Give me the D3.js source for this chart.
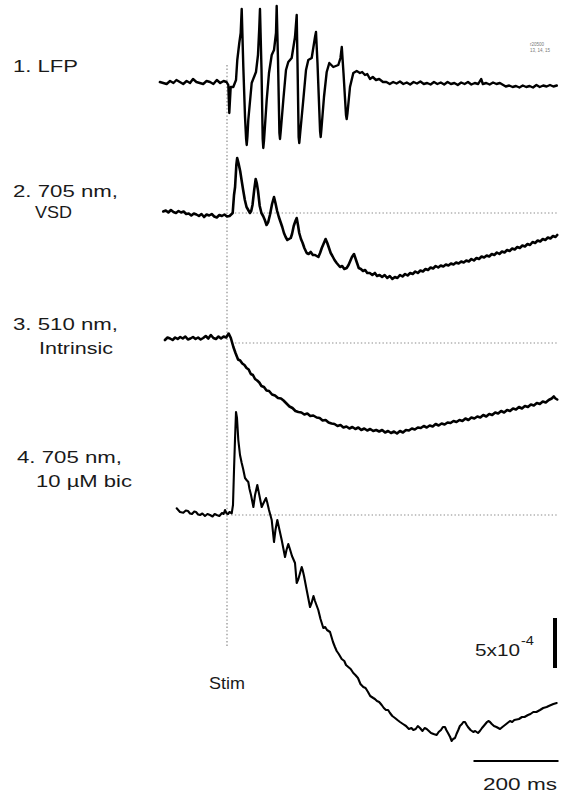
<!DOCTYPE html>
<html>
<head>
<meta charset="utf-8">
<script src="https://cdn.jsdelivr.net/npm/d3@7"></script>
<style>
  html, body { margin: 0; padding: 0; background: #fff; }
  svg { display: block; }
  text { font-family: "Liberation Sans", Arial, sans-serif; fill: #1a1a1a; }
</style>
</head>
<body>
<svg id="chart" width="561" height="796"></svg>
<script>
// ---------------- DATA ----------------
// time in ms relative to stimulus; optical values in units of 1e-4 (dF/F); LFP in arbitrary units
const traceLabels = [
  ["1. LFP"],
  ["2. 705 nm,", "VSD"],
  ["3. 510 nm,", "Intrinsic"],
  ["4. 705 nm,", "10 \u00B5M bic"]
];
const stimLabel = "Stim";
const timeBarLabel = "200 ms";
const timeBarMs = 200;
const ampBarValue = 5; // x 1e-4
const ampBarLabel = ["5x10", "-4"];
const fileNote = ["r20500", "13, 14, 15"];

const lfp = [
  [-158,0.1],[-150,0.0],[-142,-0.1],[-134,0.2],[-126,0.0],[-119,0.3],[-111,0.1],[-103,-0.1],[-95,0.2],[-87,0.0],
  [-80,0.4],[-72,0.1],[-64,0.0],[-56,-0.1],[-48,0.2],[-40,0.1],[-32,-0.1],[-24,0.3],[-16,0.0],[-8,0.2],[-1,0.1],
  [3.1,-0.2],[5.4,-3.0],[8.7,-0.4],[14.8,-0.4],[21.2,0.3],[24.2,2.3],[28.9,4.0],[32.2,5.0],[34.6,7.4],
  [38.4,1.6],[42.4,-3.4],[45,-5.6],[46.4,-6.2],[48,-5.4],[50.1,-3.7],[58.1,0.0],[68.2,1.1],[72.9,2.8],[76.0,5.6],[77.6,7.4],
  [81.2,1.3],[84,-5.6],[85.4,-6.5],[87,-5.8],[93.4,-1.7],[98.8,1.0],[105.2,2.8],[110.6,3.3],[115.3,5.0],[116.9,7.7],
  [120,2.3],[123.3,-5.0],[124.7,-5.6],[126.5,-4.8],[132.5,-1.7],[138.8,1.3],[144.2,2.1],[152.2,2.5],[160,4.6],[164,6.8],
  [165.9,2.0],[168.6,-5.4],[170.1,-6.0],[171.8,-5.2],[179.5,-1.7],[185.9,1.3],[191.3,2.3],[199.3,2.5],[207.1,4.6],[209.4,5.1],
  [212.9,2.0],[219,-4.8],[220.5,-5.4],[222.2,-4.6],[228.2,-1.4],[234.6,1.1],[240.7,2.0],[250.1,1.6],[261.9,1.8],[267,2.5],[270.1,3.6],
  [274.1,1.0],[280,-3.2],[281.6,-3.6],[283.5,-3.0],[289.4,-0.4],[297.2,1.0],[305.2,1.2],[312.9,1.0],[318,1.1],[324.7,0.8],[330,0.9],
  [336.5,0.4],[343,0.6],[350.6,0.3],[358,0.4],[367,0.1],
  [375,0.1],[383,-0.1],[391,0.1],[399,-0.05],[407,0.15],[415,-0.1],[423,0.05],[431,-0.15],[439,0.1],[447,-0.05],
  [455,0.15],[463,-0.1],[471,0.0],[479,-0.15],[487,0.1],[495,-0.1],[503,0.05],[511,-0.15],[519,0.1],[527,-0.1],
  [535,0.0],[543,-0.2],[551,0.05],[559,-0.1],[567,0.1],[575,-0.15],[583,0.0],[591,-0.1],[598,0.4],[602,-0.1],
  [610,0.0],[618,-0.15],[626,0.05],[634,-0.1],[642,0.0],[650,-0.2],[656,-0.35],[664,-0.25],[672,-0.4],[680,-0.3],
  [688,-0.45],[696,-0.25],[704,-0.4],[712,-0.3],[720,-0.45],[728,-0.2],[736,-0.4],[744,-0.25],[752,-0.35],
  [760,-0.2],[768,-0.35],[776,-0.25]
];

const vsd = [
  [-150,0.15],[-144,0.25],[-138,0.05],[-132,0.3],[-126,0.1],[-120,0.0],[-114,0.2],[-108,0.05],[-102,0.15],
  [-96,-0.1],[-90,-0.05],[-84,-0.25],[-78,-0.05],[-72,-0.15],[-66,-0.3],[-60,-0.1],[-54,-0.4],[-48,-0.15],
  [-42,-0.25],[-36,-0.1],[-30,-0.35],[-24,-0.45],[-18,-0.2],[-12,-0.3],[-6,-0.15],[0,-0.35],[6,-0.3],[11,-0.1],
  [13.4,0.0],[16.5,1.8],[19,2.6],[22,4.8],[24,5.5],[27,5.0],[31,4.2],[35,3.1],[38,2.3],[42,1.3],[46,0.6],
  [50,0.3],[54,0.0],[57,0.2],[60,0.8],[64,2.3],[67.5,3.4],[70,3.0],[73,2.2],[77,0.7],[81,0.0],[85,-0.3],
  [89,-0.7],[93,-1.2],[97,-0.9],[101,-0.2],[106,0.9],[110.6,1.6],[114,1.0],[118,0.2],[122,-0.4],[126,-0.9],
  [130,-1.4],[134,-2.0],[138,-2.4],[142,-2.7],[146,-2.6],[150,-2.5],[153,-2.1],[157,-1.3],[161,-0.8],[164,-0.5],
  [167,-1.2],[170,-2.0],[174,-2.6],[178,-3.0],[182,-3.5],[187.5,-4.0],[192,-4.1],[197,-3.9],[202,-4.2],
  [207,-4.2],[211,-4.3],[215,-4.4],[219,-4.0],[223,-3.5],[228,-3.0],[232,-2.6],[236,-3.0],[240,-3.5],
  [244,-4.0],[248,-4.3],[253,-4.7],[258,-5.0],[262,-5.2],[266,-5.4],[271,-5.3],[276,-5.6],[281.6,-5.5],
  [286,-5.2],[290,-4.8],[294,-4.4],[298.8,-4.1],[302,-4.5],[306,-5.0],[310,-5.5],[315,-5.6],[320,-5.8],
  [325,-5.7],[330,-6.0],[336,-6.0],[342,-6.2],[348,-6.0],[353,-6.3],[359,-6.2],[365,-6.4],[371,-6.2],
  [377,-6.5],[383,-6.3],[389,-6.6],[395,-6.4],[401,-6.5],[407,-6.2],[413,-6.35],[419,-6.1],[425,-6.25],
  [431,-6.0],[437,-6.1],[443,-5.85],[449,-6.0],[455,-5.75],[461,-5.85],[467,-5.6],[473,-5.7],[479,-5.45],
  [485,-5.55],[491,-5.3],[497,-5.45],[503,-5.25],[509,-5.35],[515,-5.15],[521,-5.25],[527,-5.05],[533,-5.15],
  [539,-4.95],[545,-5.05],[551,-4.85],[557,-4.95],[563,-4.75],[569,-4.85],[575,-4.6],[581,-4.75],[587,-4.5],
  [593,-4.6],[599,-4.35],[605,-4.45],[611,-4.25],[617,-4.35],[623,-4.1],[629,-4.2],[635,-3.95],[641,-4.1],
  [647,-3.85],[653,-3.95],[659,-3.7],[665,-3.8],[671,-3.55],[677,-3.65],[683,-3.4],[689,-3.5],[695,-3.25],
  [701,-3.35],[707,-3.1],[713,-3.2],[719,-2.9],[725,-3.0],[731,-2.75],[737,-2.85],[743,-2.6],[749,-2.7],
  [755,-2.45],[761,-2.55],[767,-2.3],[773,-2.4],[777,-2.2]
];

const intrinsic = [
  [-146,0.3],[-140,0.55],[-134,0.45],[-128,0.3],[-122,0.55],[-116,0.4],[-110,0.6],[-104,0.45],[-98,0.65],
  [-92,0.35],[-86,0.45],[-80,0.6],[-74,0.4],[-68,0.55],[-62,0.35],[-56,0.5],[-50,0.7],[-44,0.45],[-38,0.8],
  [-32,0.5],[-26,0.4],[-20,0.65],[-14,0.45],[-8,0.65],[-2,0.55],[4,0.95],[9,0.5],[15,-0.4],[20,-1.0],
  [26,-1.65],[31,-1.75],[36,-2.05],[41,-2.2],[46,-2.5],[51,-2.65],[56,-3.1],[61,-3.2],[66,-3.6],[71,-3.75],
  [76,-3.95],[81,-4.3],[87,-4.4],[93,-4.75],[99,-4.8],[106,-5.15],[113,-5.25],[120,-5.5],[127,-5.55],
  [133,-5.75],[140,-6.05],[147,-6.35],[154,-6.5],[161,-6.8],[168,-6.9],[175,-6.95],[182,-7.15],[189,-7.05],
  [196,-7.3],[203,-7.25],[211,-7.45],[218,-7.5],[225,-7.75],[232,-7.7],[239,-7.95],[246,-8.05],[253,-8.1],
  [260,-8.3],[267,-8.2],[274,-8.45],[281,-8.35],[288,-8.55],[295,-8.4],[302,-8.6],[309,-8.45],[316,-8.7],
  [323,-8.55],[330,-8.75],[337,-8.6],[344,-8.8],[351,-8.7],[358,-8.85],[365,-8.7],[372,-8.95],[379,-8.8],
  [386,-9.0],[393,-8.85],[400,-9.05],[407,-8.8],[414,-8.95],[421,-8.7],[428,-8.75],[435,-8.55],[442,-8.65],
  [449,-8.45],[456,-8.5],[463,-8.3],[470,-8.45],[477,-8.25],[484,-8.35],[491,-8.1],[498,-8.25],[505,-8.05],
  [512,-8.15],[519,-7.95],[526,-8.0],[533,-7.8],[540,-7.9],[547,-7.7],[554,-7.8],[561,-7.55],[568,-7.7],
  [575,-7.45],[582,-7.55],[589,-7.35],[596,-7.45],[603,-7.2],[610,-7.35],[617,-7.1],[624,-7.2],[631,-6.95],
  [638,-7.05],[645,-6.8],[652,-6.95],[659,-6.7],[666,-6.8],[673,-6.55],[680,-6.65],[687,-6.4],[694,-6.55],
  [701,-6.3],[708,-6.4],[715,-6.15],[722,-6.25],[729,-6.0],[736,-6.1],[743,-5.85],[750,-5.95],[757,-5.7],
  [764,-5.55],[769,-5.35],[773,-5.55],[777,-5.65]
];

const bicuculline = [
  [-118.4,0.67],[-110.6,0.3],[-102.8,0.23],[-97,0.45],[-91.8,0.4],[-87,0.15],[-82.4,0.1],[-77,0.35],[-72.9,0.3],
  [-68,0.05],[-63.5,0.0],[-58,0.15],[-51.8,-0.1],[-46,0.1],[-40,0.0],[-34,-0.15],[-29,0.1],[-24.2,0.0],
  [-18,-0.1],[-11.8,0.2],[-8,0.1],[-4.7,0.5],[-1,0.15],[2.4,0.1],[6,0.3],[11.1,0.17],
  [14.1,1.0],[16.5,4.5],[18.8,7.5],[21.2,10.3],[23.5,9.7],[26.6,7.5],[30.6,6.0],[34.6,5.2],[38,4.6],
  [42.4,3.7],[46,3.5],[50.1,3.3],[53,2.6],[56.5,2.0],[62.1,0.8],[66,2.0],[71.3,3.0],[76,2.0],[81.6,0.8],
  [86,1.2],[91.8,1.7],[95,1.2],[98.8,0.5],[105.2,-0.5],[110.6,-2.7],[114,-1.5],[118.4,-0.5],[123,-1.4],
  [128.7,-2.5],[136.5,-4.2],[140,-3.5],[144.2,-2.9],[148,-3.4],[152.9,-4.1],[160,-4.8],[164,-6.8],
  [168,-6.4],[175.8,-5.2],[178,-5.5],[181.2,-6.1],[187.5,-7.5],[195.3,-9.2],[199,-8.8],[203.5,-8.1],
  [207,-8.6],[214.8,-9.5],[220,-10.4],[226.6,-11.3],[231,-11.2],[235.3,-11.5],[242.4,-11.7],[249.4,-12.7],
  [254,-13.2],[258.1,-13.6],[263,-13.9],[269.9,-14.4],[276,-14.6],[280,-15.0],[285.4,-15.2],[291,-15.4],
  [297.2,-15.8],[302,-16.0],[308.2,-16.3],[314,-16.9],[320.7,-17.2],[326,-17.3],[331.8,-17.7],[337,-18.1],
  [344.2,-18.3],[348,-18.4],[352.9,-18.6],[358,-18.7],[364,-19.0],[369,-19.3],[374.1,-19.5],[379,-19.5],
  [383.5,-19.8],[389,-20.1],[395.3,-20.3],[401,-20.5],[407.1,-20.7],[414,-20.9],[421.2,-21.1],[428,-21.4],
  [434,-21.3],[438.4,-21.5],[444,-21.4],[449,-21.1],[454.1,-21.3],[460,-21.6],[465,-21.3],[469.9,-21.4],
  [475,-21.6],[480,-21.8],[486,-21.9],[493.4,-22.0],[498,-21.7],[503.5,-21.5],[508,-21.2],[512.9,-21.2],
  [516,-21.5],[520,-21.8],[525,-22.2],[528.7,-22.6],[532,-22.4],[536.5,-22.3],[540,-21.9],[544.2,-21.5],
  [548,-21.1],[552.9,-20.9],[556,-20.7],[560,-20.7],[564,-21.0],[567,-21.2],[573,-21.5],[579.5,-21.7],
  [584,-21.6],[590.6,-21.8],[595,-21.6],[600,-21.3],[606,-21.0],[611.8,-20.7],[615,-20.6],[618.8,-20.7],
  [623,-20.9],[628.2,-21.1],[634,-21.2],[642.4,-21.4],[648,-21.2],[654.1,-21.0],[660,-20.8],[665.9,-20.6],
  [671,-20.7],[676,-20.5],[681.6,-20.45],[687,-20.4],[694.1,-20.2],[700,-20.2],[708.2,-20.0],[714,-19.9],
  [720.7,-19.7],[728,-19.7],[736.5,-19.5],[744,-19.3],[752.2,-19.2],[757,-19.1],[762.4,-19.0],[768,-18.9],
  [775.8,-18.8]
];

// ---------------- DRAWING ----------------
const svg = d3.select("#chart");

const x = d3.scaleLinear().domain([-160, 780]).range([159, 558.5]);
// each trace: 10 px per unit
function yScaleFor(baseline) {
  return d3.scaleLinear().domain([0, 1]).range([baseline, baseline - 10]);
}

const traces = [
  { data: lfp, base: 83, dotted: false, sw: 2.4 },
  { data: vsd, base: 213, dotted: true, sw: 2.6 },
  { data: intrinsic, base: 343, dotted: true, sw: 2.6 },
  { data: bicuculline, base: 515, dotted: true, sw: 2.1 }
];

const dotStyle = sel => sel.attr("stroke", "#8a8a8a").attr("stroke-width", 1.2)
  .attr("stroke-dasharray", "1.4,2.2").attr("fill", "none");

// stim vertical dotted line
svg.append("line")
  .attr("x1", x(0)).attr("x2", x(0))
  .attr("y1", 65).attr("y2", 648)
  .call(dotStyle);

// baseline dotted lines
traces.forEach(tr => {
  if (!tr.dotted) return;
  const ys = yScaleFor(tr.base);
  svg.append("line")
    .attr("x1", x(10)).attr("x2", x(776))
    .attr("y1", ys(0)).attr("y2", ys(0))
    .call(dotStyle);
});

// traces
traces.forEach(tr => {
  const ys = yScaleFor(tr.base);
  const line = d3.line().x(d => x(d[0])).y(d => ys(d[1]));
  svg.append("path")
    .datum(tr.data)
    .attr("d", line)
    .attr("fill", "none")
    .attr("stroke", "#000")
    .attr("stroke-width", tr.sw)
    .attr("stroke-linejoin", "round")
    .attr("stroke-linecap", "round");
});

// text helper: horizontally stretched glyphs to match the reference widths
function label(xp, yp, txt, width, size) {
  const g = svg.append("g");
  const t = g.append("text")
    .attr("x", 0).attr("y", 0)
    .attr("font-size", size || 16)
    .text(txt);
  const natural = t.node().getComputedTextLength();
  const sx = natural > 0 ? width / natural : 1;
  g.attr("transform", `translate(${xp},${yp}) scale(${sx},1)`);
  return t;
}

const labelPos = [
  [[13, 72, 65]],
  [[13, 197, 105], [35, 218, 37]],
  [[13, 330, 105], [39, 354, 74]],
  [[17, 463, 105], [36, 487, 96]]
];
traceLabels.forEach((lines, i) => {
  lines.forEach((t, j) => {
    const p = labelPos[i][j];
    label(p[0], p[1], t, p[2]);
  });
});

// stim label
label(209, 689, stimLabel, 36);

// amplitude scale bar (same scale as the optical traces)
const yb = yScaleFor(668);
svg.append("line")
  .attr("x1", 555).attr("x2", 555)
  .attr("y1", yb(0)).attr("y2", yb(ampBarValue))
  .attr("stroke", "#000").attr("stroke-width", 4);
label(475, 656, ampBarLabel[0], 45);
label(521, 645, ampBarLabel[1], 13, 12);

// time scale bar
svg.append("line")
  .attr("x1", x(780 - timeBarMs)).attr("x2", x(780))
  .attr("y1", 761).attr("y2", 761)
  .attr("stroke", "#000").attr("stroke-width", 2);
label(483, 790, timeBarLabel, 74);

// file note
fileNote.forEach((t, i) => {
  svg.append("text").attr("x", 530).attr("y", 46 + i * 6)
    .attr("font-size", 4.5).style("fill", "#777").text(t);
});
</script>
</body>
</html>
